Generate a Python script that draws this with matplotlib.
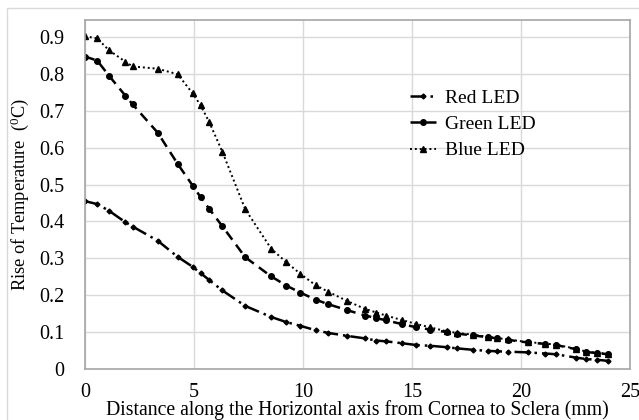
import matplotlib
matplotlib.use("Agg")
import matplotlib.pyplot as plt
from matplotlib.patches import Rectangle

plt.rcParams.update({
    "font.family": "Liberation Serif",
    "mathtext.fontset": "custom",
    "mathtext.rm": "Liberation Serif",
    "mathtext.it": "Liberation Serif:italic",
    "font.size": 13,
})

# distance (mm), shared by all three series
distance = [0, 0.56, 1.1, 1.85, 2.19, 3.33, 4.25, 4.94, 5.3, 5.7, 6.3, 7.35,
            8.54, 9.24, 9.88, 10.58, 11.14, 12.0, 12.84, 13.37, 13.8, 14.52,
            15.2, 15.83, 16.6, 17.05, 17.8, 18.5, 18.9, 19.4, 20.3, 21.1,
            21.6, 22.5, 23.0, 23.5, 24.0]

red = [0.455, 0.447, 0.429, 0.398, 0.386, 0.348, 0.304, 0.277, 0.260, 0.241,
       0.213, 0.171, 0.141, 0.127, 0.117, 0.105, 0.098, 0.090, 0.083, 0.077,
       0.075, 0.070, 0.065, 0.063, 0.059, 0.056, 0.052, 0.049, 0.048, 0.047,
       0.045, 0.042, 0.040, 0.031, 0.027, 0.025, 0.022]

green = [0.847, 0.836, 0.795, 0.741, 0.717, 0.641, 0.556, 0.497, 0.466, 0.434,
         0.387, 0.303, 0.251, 0.226, 0.207, 0.188, 0.176, 0.160, 0.145, 0.138,
         0.132, 0.122, 0.113, 0.107, 0.100, 0.096, 0.091, 0.086, 0.083, 0.079,
         0.072, 0.068, 0.065, 0.054, 0.046, 0.043, 0.040]

blue = [0.902, 0.896, 0.864, 0.833, 0.820, 0.814, 0.799, 0.747, 0.715, 0.669,
        0.589, 0.433, 0.326, 0.289, 0.258, 0.227, 0.210, 0.185, 0.163, 0.153,
        0.145, 0.133, 0.122, 0.113, 0.102, 0.098, 0.093, 0.087, 0.084, 0.080,
        0.073, 0.069, 0.066, 0.055, 0.047, 0.044, 0.041]

xticks = [0, 5, 10, 15, 20, 25]
yticks = [0, 0.1, 0.2, 0.3, 0.4, 0.5, 0.6, 0.7, 0.8, 0.9]

fig = plt.figure(figsize=(6.39, 4.20), dpi=100)
ax = fig.add_axes([85 / 639, 51 / 420, 545 / 639, 349 / 420])

# light outer chart frame
fig.patches.append(Rectangle((7 / 639, -0.5), 2, 0.5 + 412 / 420,
                             transform=fig.transFigure, fill=False,
                             edgecolor="#d9d9d9", linewidth=1.0))

ax.plot(distance, red, color="black", linestyle=(0, (6, 2, 1, 2)),
        linewidth=1.8, marker="D", markersize=2.5, label="Red LED")
ax.plot(distance, green, color="black", linestyle=(0, (4, 2.5)),
        linewidth=1.8, marker="o", markersize=4, label="Green LED")
ax.plot(distance, blue, color="black", linestyle=(0, (1, 1.5)),
        linewidth=1.4, marker="^", markersize=4, label="Blue LED")

ax.set_xlim(0, 25)
ax.set_ylim(0, 0.946)
ax.set_xticks(xticks)
ax.set_xticklabels([str(t) for t in xticks])
ax.set_yticks(yticks)
ax.set_yticklabels(["0"] + [f"{t:.1f}" for t in yticks[1:]])
ax.tick_params(length=0, labelsize=14.5, pad=15)
ax.tick_params(axis="x", pad=10)

ax.grid(True, color="#d9d9d9", linewidth=1.0)
ax.set_axisbelow(True)
for s in ax.spines.values():
    s.set_color("#a6a6a6")
    s.set_linewidth(1.2)

ax.set_xlabel("Distance along the Horizontal axis from Cornea to Sclera (mm)",
              fontsize=14.2, labelpad=-1)
ax.set_ylabel(r"Rise of Temperature  ($^{0}$C)", fontsize=13.2, labelpad=6)

ax.legend(loc="upper left", bbox_to_anchor=(0.578, 0.83), frameon=False,
          fontsize=14, handlelength=1.35, handletextpad=0.45, labelspacing=0.45,
          borderpad=0)

fig.savefig("out.png", dpi=100)
